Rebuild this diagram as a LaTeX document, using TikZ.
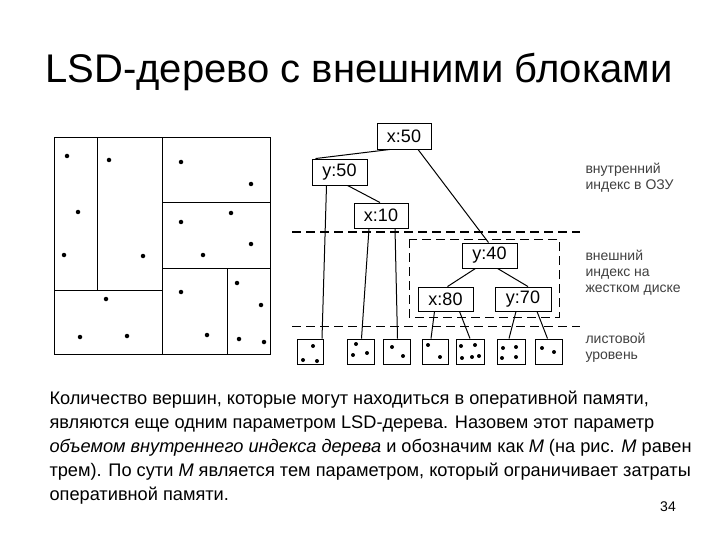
\documentclass[tikz,border=0pt]{standalone}
\usepackage{fontspec}
\setmainfont{Liberation Sans}
\begin{document}
\begin{tikzpicture}[x=1pt,y=-1pt,
  ln/.style={draw=black,line width=1pt},
  pt/.style={fill=black,circle,inner sep=0pt,minimum size=4.5pt},
  kbox/.style={draw=black,line width=0.9pt,fill=white,inner sep=0pt,font=\fontsize{18}{20}\selectfont},
  leaf/.style={draw=black,line width=0.9pt},
  dsh/.style={draw=black,line width=1pt,dash pattern=on 9pt off 5pt},
  lab/.style={anchor=west,align=left,font=\fontsize{14}{16}\selectfont,text=black!75},
  body/.style={anchor=north west,align=left,font=\fontsize{18.2}{24}\selectfont}]
\useasboundingbox[fill=white] (0,0) rectangle (720,540);
\node (title) at (359,72) {\fontsize{40}{44}\selectfont LSD-дерево с внешними блоками};
% partition square
\draw[ln] (54,138) rectangle (270,354);
\draw[ln] (97,138) -- (97,290);
\draw[ln] (54,290) -- (162,290);
\draw[ln] (162,138) -- (162,354);
\draw[ln] (162,203) -- (270,203);
\draw[ln] (162,268) -- (270,268);
\draw[ln] (227,268) -- (227,354);
\foreach \p in {(67,156),(109,160),(78,212),(64,255),(143,256),(181,162),(251,184),(231,213),(181,222),(251,244),(203,255),(106,299),(80,337),(127,336),(181,292),(207,335),(237,283),(261,305),(239,339),(264,342)}
  \node[pt] at \p {};
% dashed lines
\draw[dsh] (292,232) -- (580,232);
\draw[dsh] (292,326) -- (580,326);
\draw[dsh] (409,239) rectangle (559,317);
% tree nodes
\node[kbox,minimum width=54pt,minimum height=26pt] (x50) at (404,136) {x:50};
\node[kbox,minimum width=55pt,minimum height=26pt] (y50) at (339.5,172) {y:50};
\node[kbox,minimum width=54pt,minimum height=25pt] (x10) at (381,215.5) {x:10};
\node[kbox,minimum width=55pt,minimum height=25pt] (y40) at (489.5,255.5) {y:40};
\node[kbox,minimum width=55pt,minimum height=24pt] (x80) at (445.5,299) {x:80};
\node[kbox,minimum width=56pt,minimum height=24pt] (y70) at (523,299) {y:70};
% leaves
\foreach \n/\a/\b in {l1/297/323,l2/347/374,l3/383/410,l4/422/448,l5/456/484,l6/497/525,l7/535/562}
  \node[leaf,minimum width={\b-\a},minimum height=25pt,inner sep=0pt] (\n) at ({(\a+\b)/2},351.5) {};
\foreach \p in {(313,346),(303,360),(317,361),(356,344),(353,355),(367,353),(392,347),(403,356),(428,345),(440,357),(461,346),(475,345),(462,358),(472,357),(479,356),(503,348),(516,347),(502,358),(516,357),(542,348),(554,352)}
  \node[pt,minimum size=4pt] at \p {};
% edges
\draw[ln] ([xshift=-14pt]x50.south) -- ([xshift=-24pt]y50.north);
\draw[ln] ([xshift=14pt]x50.south) -- ([xshift=-1pt]y40.north);
\draw[ln] ([xshift=8pt]y50.south) -- ([xshift=-1pt]x10.north);
\draw[ln] ([xshift=-13pt]y50.south) -- ([xshift=12pt]l1.north);
\draw[ln] ([xshift=-12pt]x10.south) -- ([xshift=1pt]l2.north);
\draw[ln] ([xshift=14pt]x10.south) -- ([xshift=1pt]l3.north);
\draw[ln] ([xshift=-14pt]y40.south) -- ([xshift=2pt]x80.north);
\draw[ln] ([xshift=8pt]y40.south) -- ([xshift=5pt]y70.north);
\draw[ln] ([xshift=-11pt]x80.south) -- ([xshift=-4pt]l4.north);
\draw[ln] ([xshift=14pt]x80.south) -- ([xshift=0pt]l5.north);
\draw[ln] ([xshift=-7pt]y70.south) -- ([xshift=-2pt]l6.north);
\draw[ln] ([xshift=14pt]y70.south) -- ([xshift=-1pt]l7.north);
% labels
\node[lab] (t1) at (582,178) {внутренний\\индекс в ОЗУ};
\node[lab] (t2) at (582,273) {внешний\\индекс на\\жестком диске};
\node[lab] (t3) at (582,348) {листовой\\уровень};
% body
\node[body] (body) at (46,387) {Количество вершин, которые могут находиться в оперативной памяти,\\являются еще одним параметром LSD-дерева. Назовем этот параметр\\\textit{объемом внутреннего индекса дерева} и обозначим как \textit{M} (на рис. \textit{M} равен\\трем). По сути \textit{M} является тем параметром, который ограничивает затраты\\оперативной памяти.};
\node (pg) at (668,507) {\fontsize{14}{16}\selectfont 34};
\end{tikzpicture}
\end{document}
